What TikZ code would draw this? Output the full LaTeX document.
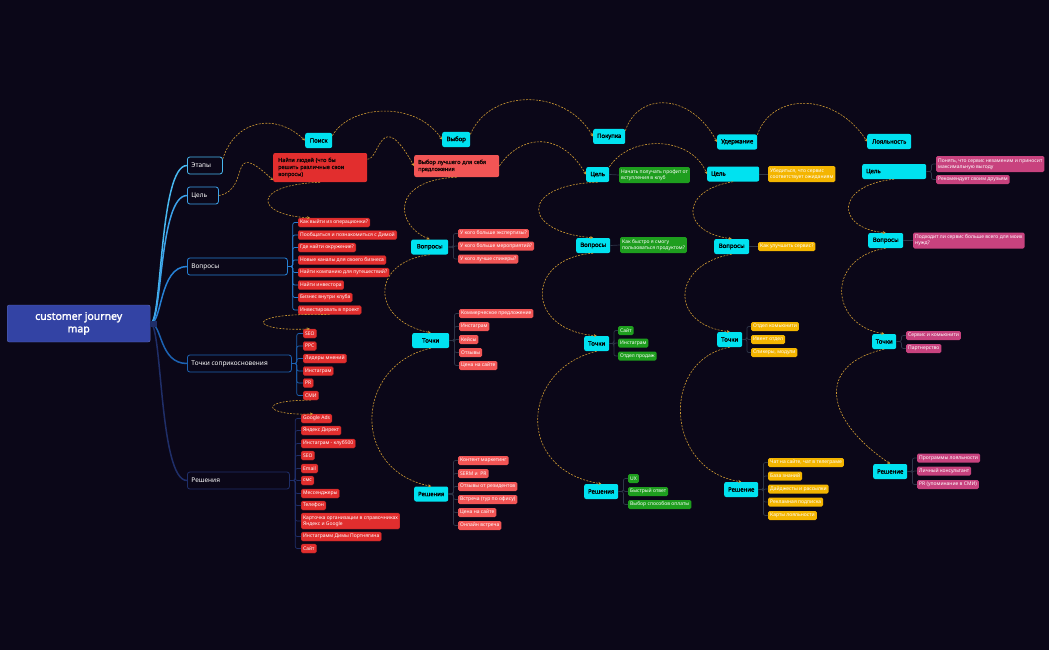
\documentclass[tikz,border=0pt]{standalone}
\usepackage{fontspec}
\setmainfont{Noto Sans}[AutoFakeBold=2]
\usetikzlibrary{arrows.meta,calc}
\tikzset {>=Stealth}

\definecolor{bgc}{HTML}{0B0718}
\definecolor{rootc}{HTML}{3343A4}
\definecolor{cyanc}{HTML}{00E2F0}
\definecolor{redA}{HTML}{E22E2E}
\definecolor{redB}{HTML}{F25555}
\definecolor{greenc}{HTML}{1E9E1E}
\definecolor{yellc}{HTML}{F4B500}
\definecolor{pinkc}{HTML}{C8427E}
\definecolor{goldc}{HTML}{CF9A32}
\definecolor{treec}{HTML}{2E3648}
\definecolor{cEt}{HTML}{48B8F0}
\definecolor{cTs}{HTML}{3CA2EA}
\definecolor{cVo}{HTML}{2680D4}
\definecolor{cTo}{HTML}{1C62B2}
\definecolor{cRe}{HTML}{1F2E68}
\definecolor{inkc}{HTML}{1A0808}

\tikzset{
  rootbox/.style={fill=rootc, draw=rootc!80!white, rounded corners=2pt, text=white,
    font=\bfseries\fontsize{10.5}{12.5}\selectfont, align=center,
    minimum width=143pt, minimum height=37pt, anchor=west},
  branch/.style={fill=bgc, line width=0.8pt, rounded corners=2.5pt, text=white,
    font=\fontsize{6.5}{8}\selectfont, minimum height=17pt, inner xsep=4pt, anchor=west},
  stage/.style={fill=cyanc, rounded corners=2pt, text=black,
    font=\bfseries\fontsize{6}{7}\selectfont, minimum height=15pt, inner xsep=2pt, anchor=west},
  item/.style={rounded corners=1.5pt, text=white, font=\fontsize{5}{6}\selectfont,
    minimum height=9pt, inner xsep=2pt, inner ysep=1pt, align=left, anchor=west},
  ritem/.style={item, fill=redA, draw=redA!75!black, line width=0.3pt},
  litem/.style={item, fill=redB},
  gitem/.style={item, fill=greenc},
  yitem/.style={item, fill=yellc},
  pitem/.style={item, fill=pinkc},
  goal/.style={rounded corners=2pt, text=inkc, font=\bfseries\fontsize{5.5}{7}\selectfont,
    align=left, inner xsep=4pt, anchor=west},
  rel/.style={draw=goldc, line width=0.6pt, dash pattern=on 2pt off 1.3pt, ->,
    >={Stealth[length=3pt,width=3pt]}},
  twig/.style={draw=treec, line width=0.7pt, rounded corners=2pt},
  trunk/.style={line width=1.5pt},
}

\begin{document}
\begin{tikzpicture}[x=1pt,y=-1pt]
% Background
\fill[bgc] (0,0) rectangle (1049,650);
\useasboundingbox (0,0) rectangle (1049,650);

% Root and main branches
\node[rootbox] (root) at (7,323.5) {customer journey\\map};
\node[branch, draw=cEt] (Et) at (187,165.5) {\makebox[27pt][l]{Этапы}};
\node[branch, draw=cTs] (Ts) at (187,195.5) {\makebox[23pt][l]{Цель}};
\node[branch, draw=cVo] (Vo) at (187,266.5) {\makebox[92pt][l]{Вопросы}};
\node[branch, draw=cTo] (To) at (187,363.5) {\makebox[96pt][l]{Точки соприкосновения}};
\node[branch, draw=cRe] (Re) at (187,480.5) {\makebox[94pt][l]{Решения}};

\draw[trunk, cEt] (root.east) .. controls +(12,0) and +(-28,0) .. (Et.west);
\draw[trunk, cTs] (root.east) .. controls +(12,0) and +(-28,0) .. (Ts.west);
\draw[trunk, cVo] (root.east) .. controls +(12,0) and +(-28,0) .. (Vo.west);
\draw[trunk, cTo] (root.east) .. controls +(12,0) and +(-28,0) .. (To.west);
\draw[trunk, cRe] (root.east) .. controls +(12,0) and +(-28,0) .. (Re.west);
\fill[cRe] (root.east) ++(0,-3) rectangle ++(7,6);

% Stage 1: Поиск
\node[stage, minimum width=27pt] (Poisk) at (305,140.5) {Поиск};
\node[goal, fill=redA, text width=84pt, inner xsep=5pt, minimum height=29pt] (N1) at (273,167.5)
  {Найти людей (что бы\\решить различные свои\\вопросы)};

\node[ritem] (q1) at (298,222.5) {Как выйти из операционки?};
\node[ritem] (q2) at (298,235) {Пообщаться и познакомиться с Димой};
\node[ritem] (q3) at (298,247.5) {Где найти окружение?};
\node[ritem] (q4) at (298,260) {Новые каналы для своего бизнеса};
\node[ritem] (q5) at (298,272.5) {Найти компанию для путешествий?};
\node[ritem] (q6) at (298,285) {Найти инвестора};
\node[ritem] (q7) at (298,297.5) {Бизнес внутри клуба};
\node[ritem] (q8) at (298,310) {Инвестировать в проект};

\node[ritem] (t1) at (303,333.5) {SEO};
\node[ritem] (t2) at (303,346) {PPC};
\node[ritem] (t3) at (303,358.5) {Лидеры мнений};
\node[ritem] (t4) at (303,371) {Инстаграм};
\node[ritem] (t5) at (303,383) {PR};
\node[ritem] (t6) at (303,395.5) {СМИ};

\node[ritem] (s1) at (301,418.5) {Google Ads};
\node[ritem] (s2) at (301,430.5) {Яндекс Директ};
\node[ritem] (s3) at (301,443.5) {Инстаграм - клуб500};
\node[ritem] (s4) at (301,455.5) {SEO};
\node[ritem] (s5) at (301,468.5) {Email};
\node[ritem] (s6) at (301,480.5) {смс};
\node[ritem] (s7) at (301,493.5) {Мессенджеры};
\node[ritem] (s8) at (301,505.5) {Телефон};
\node[ritem, minimum height=16pt] (s9) at (301,521) {Карточка организации в справочниках\\Яндекс и Google};
\node[ritem] (s10) at (301,536.5) {Инстаграмм Димы Портнягина};
\node[ritem] (s11) at (301,548.5) {Сайт};

\foreach \c in {q1,q2,q3,q4,q5,q6,q7,q8}
  \draw[twig, draw=cVo] (Vo.east) -- ++(5,0) |- (\c.west);
\foreach \c in {t1,t2,t3,t4,t5,t6}
  \draw[twig, draw=cTo] (To.east) -- ++(5,0) |- (\c.west);
\foreach \c in {s1,s2,s3,s4,s5,s6,s7,s8,s9,s10,s11}
  \draw[twig, draw=cRe] (Re.east) -- ++(5.5,0) |- (\c.west);

% Stage 2: Выбор
\node[stage, minimum width=28pt] (Vybor) at (442,139.5) {Выбор};
\node[goal, fill=redB, text width=77pt, inner xsep=4pt, minimum height=22pt] (N2) at (414,166)
  {Выбор лучшего для себя\\предложения};
\node[stage, minimum width=37pt] (V2) at (411,247) {Вопросы};
\node[litem] (v21) at (458,233.5) {У кого больше экспертизы?};
\node[litem] (v22) at (458,246) {У кого больше мероприятий?};
\node[litem] (v23) at (458,259) {У кого лучше спикеры?};
\node[stage, minimum width=37pt] (T2) at (412,340.5) {Точки};
\node[litem] (t21) at (459,313.5) {Коммерческое предложение};
\node[litem] (t22) at (459,326.5) {Инстаграм};
\node[litem] (t23) at (459,339.5) {Кейсы};
\node[litem] (t24) at (459,352.5) {Отзывы};
\node[litem] (t25) at (459,365.5) {Цена на сайте};
\node[stage, minimum width=34pt] (R2) at (414,494) {Решения};
\node[litem] (r21) at (458,460.5) {Контент маркетинг};
\node[litem] (r22) at (458,473.5) {SERM и\ \ PR};
\node[litem] (r23) at (458,486.5) {Отзывы от резидентов};
\node[litem] (r24) at (458,499.5) {Встреча (тур по офису)};
\node[litem] (r25) at (458,512.5) {Цена на сайте};
\node[litem] (r26) at (458,525.5) {Онлайн встреча};

\foreach \c in {v21,v22,v23} \draw[twig] (V2.east) -- ++(5,0) |- (\c.west);
\foreach \c in {t21,t22,t23,t24,t25} \draw[twig] (T2.east) -- ++(5,0) |- (\c.west);
\foreach \c in {r21,r22,r23,r24,r25,r26} \draw[twig] (R2.east) -- ++(5,0) |- (\c.west);

% Stage 3: Покупка
\node[stage, minimum width=32pt] (Pokupka) at (593,136.5) {Покупка};
\node[stage, minimum width=23pt] (C3) at (586,174.5) {Цель};
\node[gitem, minimum height=16pt] (g31) at (619,175) {Начать получать профит от\\вступления в клуб};
\node[stage, minimum width=34pt] (V3) at (576,245.5) {Вопросы};
\node[gitem, minimum height=16pt] (g32) at (620,245) {Как быстро я смогу\\пользоваться продуктом?};
\node[stage, minimum width=25pt] (T3) at (584,343.5) {Точки};
\node[gitem] (g33) at (618,330.5) {Сайт};
\node[gitem] (g34) at (618,343) {Инстаграм};
\node[gitem] (g35) at (618,356) {Отдел продаж};
\node[stage, minimum width=34pt] (R3) at (584,491.5) {Решения};
\node[gitem] (g36) at (628,478.5) {UX};
\node[gitem] (g37) at (628,491.5) {Быстрый ответ};
\node[gitem] (g38) at (628,504.5) {Выбор способов оплаты};

\draw[twig] (C3.east) -- (g31.west);
\draw[twig] (V3.east) -- (g32.west);
\foreach \c in {g33,g34,g35} \draw[twig] (T3.east) -- ++(4.5,0) |- (\c.west);
\foreach \c in {g36,g37,g38} \draw[twig] (R3.east) -- ++(5,0) |- (\c.west);

% Stage 4: Удержание
\node[stage, minimum width=40pt] (Uderzh) at (717,142) {Удержание};
\node[stage, minimum width=52pt] (C4) at (707,174) {\makebox[44pt][l]{Цель}};
\node[yitem, minimum height=16pt] (y41) at (768,174) {Убедиться, что сервис\\соответствует ожиданиям};
\node[stage, minimum width=35pt] (V4) at (714,246.5) {Вопросы};
\node[yitem] (y42) at (758,246.5) {Как улучшить сервис?};
\node[stage, minimum width=25pt] (T4) at (717,339.5) {Точки};
\node[yitem] (y43) at (751,326.5) {Отдел комьюнити};
\node[yitem] (y44) at (751,339.5) {Ивент отдел};
\node[yitem] (y45) at (751,352.5) {Спикеры, модули};
\node[stage, minimum width=34pt] (R4) at (724,489.5) {Решение};
\node[yitem] (y46) at (768,462.5) {Чат на сайте, чат в телеграме};
\node[yitem] (y47) at (768,476) {База знаний};
\node[yitem] (y48) at (768,489) {Дайджесты и рассылки};
\node[yitem] (y49) at (768,502) {Рекламная подписка};
\node[yitem] (y50) at (768,515.5) {Карты лояльности};

\draw[twig] (C4.east) -- (y41.west);
\draw[twig] (V4.east) -- (y42.west);
\foreach \c in {y43,y44,y45} \draw[twig] (T4.east) -- ++(4.5,0) |- (\c.west);
\foreach \c in {y46,y47,y48,y49,y50} \draw[twig] (R4.east) -- ++(5,0) |- (\c.west);

% Stage 5: Лояльность
\node[stage, minimum width=44pt] (Loyal) at (867,141.5) {Лояльность};
\node[stage, minimum width=64pt] (C5) at (862,171.5) {\makebox[56pt][l]{Цель}};
\node[pitem, minimum height=16pt] (p51) at (936,164) {Понять, что сервис незаменим и приносит\\максимальную выгоду};
\node[pitem] (p52) at (936,179.5) {Рекомендует своим друзьям};
\node[stage, minimum width=35pt] (V5) at (868,240.5) {Вопросы};
\node[pitem, minimum height=16pt] (p53) at (913,240.5) {Подходит ли сервис больше всего для моих\\нужд?};
\node[stage, minimum width=24pt] (T5) at (872,341.5) {Точки};
\node[pitem] (p54) at (906,335.5) {Сервис и комьюнити};
\node[pitem] (p55) at (906,348.5) {Партнерство};
\node[stage, minimum width=34pt] (R5) at (873,471.5) {Решение};
\node[pitem] (p56) at (917,458) {Программы лояльности};
\node[pitem] (p57) at (917,471) {Личный консультант};
\node[pitem] (p58) at (917,484.5) {PR (упоминание в СМИ)};

\foreach \c in {p51,p52} \draw[twig] (C5.east) -- ++(5,0) |- (\c.west);
\draw[twig] (V5.east) -- (p53.west);
\foreach \c in {p54,p55} \draw[twig] (T5.east) -- ++(5,0) |- (\c.west);
\foreach \c in {p56,p57,p58} \draw[twig] (R5.east) -- ++(5,0) |- (\c.west);

% Relations along the stages
\draw[rel] (Et.20) .. controls (235,120) and (275,112) .. (Poisk.west);
\draw[rel] (Poisk.20) .. controls (350,105) and (415,100) .. (Vybor.west);
\draw[rel] (Vybor.20) .. controls (490,88) and (565,88) .. (Pokupka.west);
\draw[rel] (Pokupka.20) .. controls (638,92) and (690,92) .. (Uderzh.west);
\draw[rel] (Uderzh.20) .. controls (772,92) and (835,92) .. (Loyal.west);

% Relations along the goals
\draw[rel] (Ts.east) .. controls (252,190) and (226,136) .. (N1.-165);
\draw[rel] (N1.10) .. controls (380,160) and (380,105) .. (N2.west);
\draw[rel] (N2.east) .. controls (520,135) and (560,130) .. (C3.west);
\draw[rel] (C3.north east) .. controls (630,135) and (690,135) .. (C4.west);

% Relations down each column
\draw[rel] (N1.south) .. controls (250,185) and (255,215) .. ($(q1.north west)+(12,0)$);
\draw[rel] (q8.south) .. controls (240,312) and (250,332) .. (t1.north);
\draw[rel] (t6.south) .. controls (255,400) and (265,416) .. ($(s1.north west)+(12,0)$);
\draw[rel] (N2.south) .. controls (390,180) and (395,225) .. (V2.north);
\draw[rel] (V2.south) .. controls (370,262) and (370,320) .. (T2.north);
\draw[rel] (T2.south) .. controls (355,365) and (350,470) .. (R2.north);
\draw[rel] (C3.south) .. controls (518,185) and (522,232) .. (V3.north);
\draw[rel] (V3.south) .. controls (525,258) and (525,330) .. (T3.north);
\draw[rel] (T3.south) .. controls (520,370) and (515,470) .. (R3.north);
\draw[rel] (C4.south) .. controls (680,190) and (680,232) .. (V4.north);
\draw[rel] (V4.south) .. controls (670,265) and (670,325) .. (T4.north);
\draw[rel] (T4.south) .. controls (660,360) and (665,470) .. (R4.north);
\draw[rel] (C5.south) .. controls (835,185) and (835,228) .. (V5.north);
\draw[rel] (V5.south) .. controls (825,258) and (830,325) .. (T5.north);
\draw[rel] (T5.south) .. controls (815,365) and (825,420) .. (R5.north);
\end{tikzpicture}
\end{document}
